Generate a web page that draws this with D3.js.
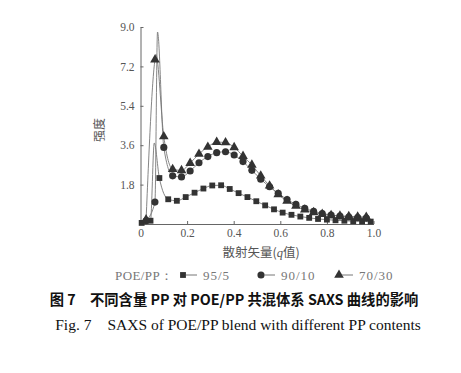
<!DOCTYPE html>
<html>
<head>
<meta charset="utf-8">
<script src="https://cdn.jsdelivr.net/npm/d3@7"></script>
<style>
  body { margin: 0; background: #fff; }
  svg { display: block; }
</style>
</head>
<body>
<div id="chart"></div>
<script>
// scattering vector q for each series' markers
const qSquare = [0.005,0.043,0.081,0.119,0.156,0.194,0.232,0.270,0.308,0.346,0.383,0.421,0.459,0.497,0.535,0.573,0.610,0.648,0.686,0.724,0.762,0.800,0.837,0.875,0.913,0.951,0.988];
const iSquare = [0.05,0.15,2.1,1.13,1.06,1.23,1.43,1.62,1.76,1.77,1.6,1.41,1.23,1.04,0.85,0.67,0.52,0.42,0.34,0.28,0.23,0.2,0.17,0.15,0.13,0.12,0.11];

const qCircTri = [0.024,0.062,0.100,0.138,0.176,0.213,0.251,0.289,0.327,0.365,0.402,0.440,0.478,0.516,0.554,0.591,0.629,0.667,0.705,0.743,0.780,0.818,0.856,0.894,0.932,0.969];
const iCircle = [0.15,1.0,3.5,2.2,2.15,2.42,2.8,3.08,3.26,3.3,3.15,2.85,2.45,2.05,1.7,1.4,1.12,0.9,0.72,0.58,0.48,0.41,0.36,0.32,0.29,0.27];
const iTriangle = [0.2,7.5,4.0,2.5,2.45,2.78,3.2,3.52,3.74,3.72,3.5,3.1,2.7,2.2,1.75,1.35,1.05,0.82,0.65,0.53,0.45,0.40,0.37,0.35,0.33,0.32];

// sharp peaks on the lines (no marker there)
const peakSquare = [0.059, 3.7];
const peakCircle = [0.073, 8.77];
const peakTriangle = [0.066, 7.75];

const xTicks = [0, 0.2, 0.4, 0.6, 0.8, 1.0];
const yTicks = [1.8, 3.6, 5.4, 7.2, 9.0];

const series = [
  {name: "95/5", q: qSquare, v: iSquare, peak: peakSquare, sym: d3.symbolSquare, size: 34},
  {name: "90/10", q: qCircTri, v: iCircle, peak: peakCircle, sym: d3.symbolCircle, size: 40},
  {name: "70/30", q: qCircTri, v: iTriangle, peak: peakTriangle, sym: d3.symbolTriangle, size: 40}
];

const width = 461, height = 373;
const svg = d3.select("#chart").append("svg")
  .attr("width", width).attr("height", height);

const x = d3.scaleLinear().domain([0, 1]).range([140.5, 373.5]);
const y = d3.scaleLinear().domain([0, 9]).range([224, 27]);

const grey = "#555";
const serif = "'Liberation Serif', 'DejaVu Serif', serif";
const cjk = "'Noto Sans CJK SC', sans-serif";

// axes
const gx = svg.append("g").attr("transform", `translate(0,${y(0)})`)
  .call(d3.axisBottom(x).tickValues(xTicks).tickSizeInner(-3).tickSizeOuter(0)
    .tickPadding(5).tickFormat(d => d === 0 ? "0" : d3.format(".1f")(d)));
const gy = svg.append("g").attr("transform", `translate(${x(0)},0)`)
  .call(d3.axisLeft(y).tickValues(yTicks).tickSizeInner(-3).tickSizeOuter(0)
    .tickPadding(6).tickFormat(d3.format(".1f")));

[gx, gy].forEach(g => {
  g.select(".domain").attr("stroke", "#666").attr("stroke-width", 1);
  g.selectAll(".tick line").attr("stroke", "#666");
  g.selectAll(".tick text").attr("fill", grey)
    .style("font-family", serif).style("font-size", "11.5px");
});

// lines
const line = d3.line().x(d => x(d[0])).y(d => y(d[1])).curve(d3.curveMonotoneX);

series.forEach(s => {
  let pts = s.q.map((q, i) => [q, s.v[i]]);
  pts.push(s.peak);
  pts.sort((a, b) => a[0] - b[0]);
  svg.append("path").datum(pts)
    .attr("d", line)
    .attr("fill", "none")
    .attr("stroke", "#777")
    .attr("stroke-width", 0.9);
});

series.forEach(s => {
  svg.append("g").selectAll("path")
    .data(s.q.map((q, i) => [q, s.v[i]]))
    .enter().append("path")
    .attr("transform", d => `translate(${x(d[0])},${y(d[1])})`)
    .attr("d", d3.symbol().type(s.sym).size(s.size))
    .attr("fill", "#333");
});

// axis titles
svg.append("text")
  .attr("transform", `translate(104,130) rotate(-90)`)
  .attr("text-anchor", "middle")
  .attr("fill", grey)
  .style("font-family", cjk).style("font-size", "12px")
  .text("强度");

const xl = svg.append("text")
  .attr("x", 261).attr("y", 257)
  .attr("text-anchor", "middle")
  .attr("fill", grey)
  .style("font-family", cjk).style("font-size", "12.5px");
xl.append("tspan").text("散射矢量(");
xl.append("tspan").text("q").style("font-family", serif).style("font-style", "italic");
xl.append("tspan").text("值)");

// legend
const legY = 275;
const leg = svg.append("g");
leg.append("text").attr("x", 115).attr("y", legY + 4.5)
  .attr("fill", "#777")
  .style("font-family", serif).style("font-size", "13px")
  .style("letter-spacing", "0.4px")
  .text("POE/PP：");
const legX = [183, 261, 339];
series.forEach((s, i) => {
  leg.append("path")
    .attr("transform", `translate(${legX[i]},${legY})`)
    .attr("d", d3.symbol().type(s.sym).size(s.size))
    .attr("fill", "#333");
  leg.append("line")
    .attr("x1", legX[i] + 3).attr("x2", legX[i] + 14)
    .attr("y1", legY).attr("y2", legY)
    .attr("stroke", "#777");
  leg.append("text").attr("x", legX[i] + 20).attr("y", legY + 4.5)
    .attr("fill", "#777")
    .style("font-family", serif).style("font-size", "13px")
    .style("letter-spacing", "1px")
    .text(s.name);
});

// captions
svg.append("text")
  .attr("x", 234).attr("y", 305)
  .attr("text-anchor", "middle")
  .attr("fill", "#111")
  .style("font-family", cjk).style("font-size", "14.3px").style("font-weight", "bold")
  .text("图 7　不同含量 PP 对 POE/PP 共混体系 SAXS 曲线的影响");

svg.append("text")
  .attr("x", 238).attr("y", 330)
  .attr("text-anchor", "middle")
  .attr("fill", "#111")
  .style("font-family", serif).style("font-size", "15.5px")
  .text("Fig. 7　SAXS of POE/PP blend with different PP contents");
</script>
</body>
</html>
